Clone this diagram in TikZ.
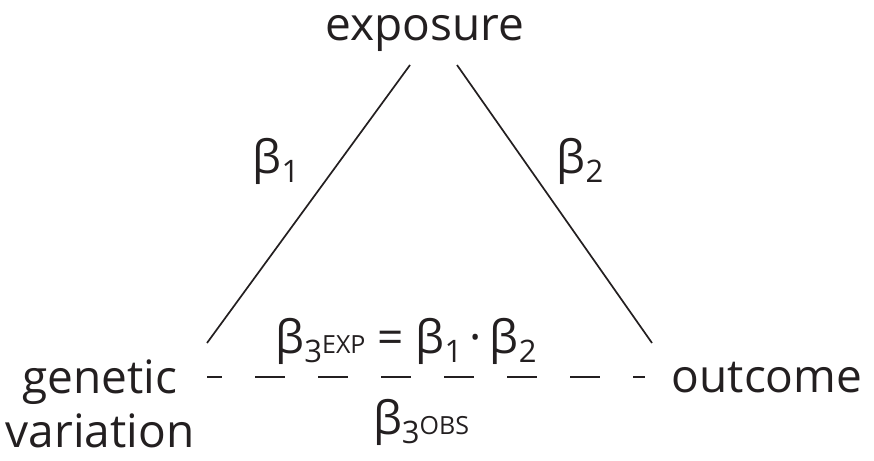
\documentclass[tikz,border=0pt]{standalone}
\usepackage{fontspec}
\setmainfont{Open Sans}
\definecolor{ink}{HTML}{231F20}
\newcommand{\subd}[1]{\raisebox{-9pt}{\fontsize{31}{31}\selectfont #1}}
\newcommand{\smc}[1]{{\fontsize{25}{25}\selectfont #1}}
\tikzset{
  lbl/.style={font=\fontsize{46}{54}\selectfont, text=ink, inner sep=0pt},
  edge/.style={draw=ink, line width=1.7pt},
  dashedge/.style={draw=ink, line width=1.7pt, dash pattern=on 30pt off 33pt, dash phase=15pt}
}
\begin{document}
\begin{tikzpicture}[x=1pt,y=-1pt]
\useasboundingbox (0,0) rectangle (874,460);
\node[lbl, anchor=base] (exp) at (425,41) {exposure};
\node[lbl, anchor=base, align=center] (gen) at (100,447) {genetic\\variation};
\node[lbl, anchor=base] (out) at (767,392) {outcome};
\node[lbl, anchor=base] (b1) at (276,173) {β\subd{1}};
\node[lbl, anchor=base] (b2) at (580,173) {β\subd{2}};
\node[lbl, anchor=base] (eq) at (406,353) {β\subd{3}\smc{EXP} = β\subd{1}\,·\,β\subd{2}};
\node[lbl, anchor=base] (obs) at (421,434) {β\subd{3}\smc{OBS}};
\coordinate (eL) at (410,65);
\coordinate (eR) at (457,65);
\coordinate (gT) at (207,343);
\coordinate (oT) at (652,343);
\coordinate (gR) at (207,377);
\coordinate (oL) at (645,377);
\draw[edge] (eL) -- (gT);
\draw[edge] (eR) -- (oT);
\draw[dashedge] (gR) -- (oL);
\end{tikzpicture}
\end{document}
